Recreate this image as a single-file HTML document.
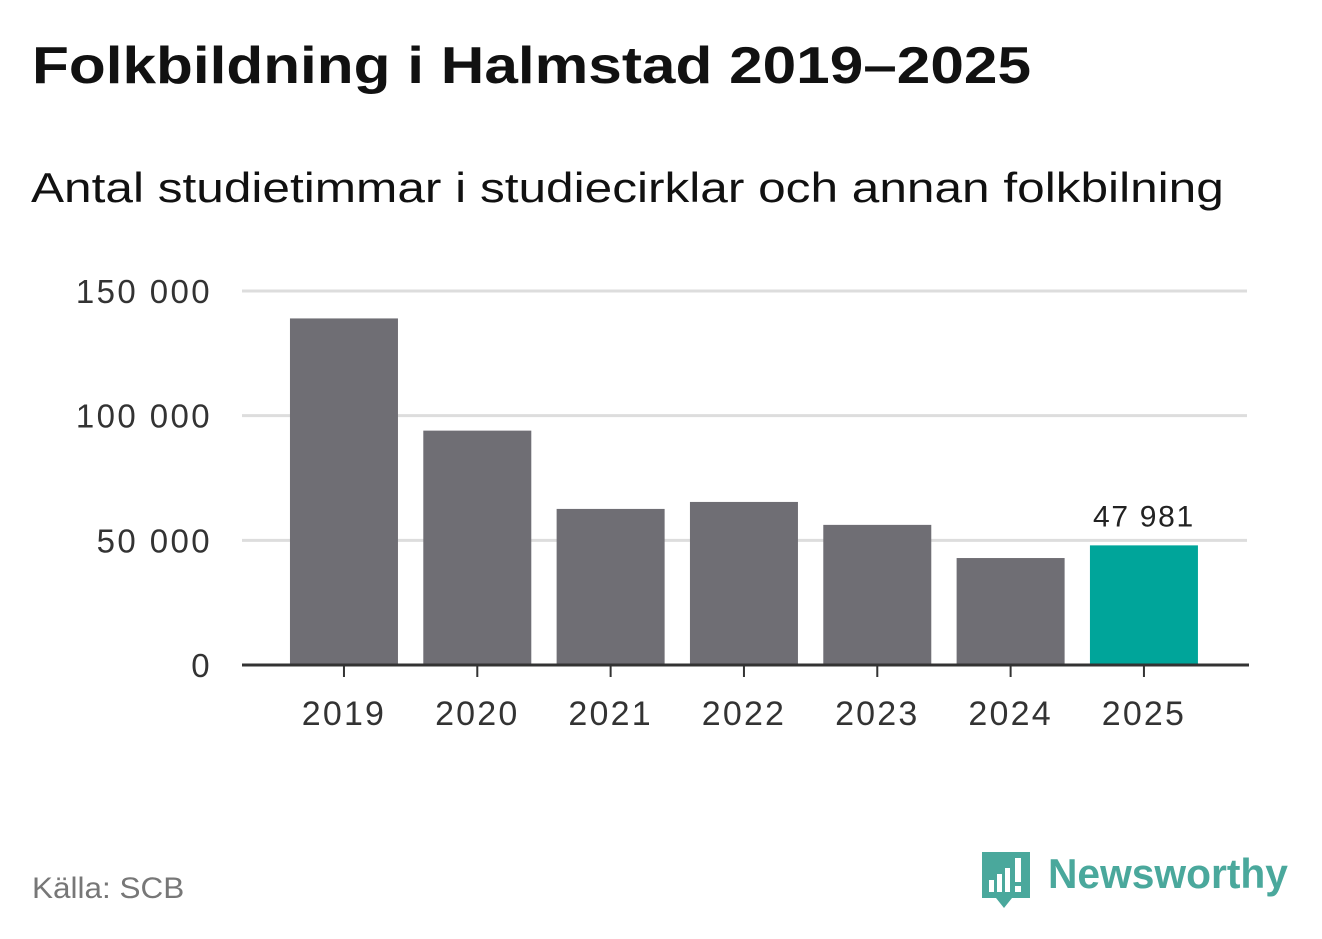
<!DOCTYPE html>
<html><head><meta charset="utf-8"><style>
body{margin:0;width:1322px;height:939px;background:#fff;font-family:"Liberation Sans",sans-serif;overflow:hidden;position:relative}
.t{position:absolute;white-space:nowrap;transform-origin:0 0}
</style></head><body>
<div class="t" style="left:32px;top:36px;font-size:52px;font-weight:bold;color:#111;transform:scaleX(1.16)">Folkbildning i Halmstad 2019–2025</div>
<div class="t" style="left:31px;top:164px;font-size:42px;color:#111;transform:scaleX(1.18)">Antal studietimmar i studiecirklar och annan folkbilning</div>
<svg id="chart" width="1322" height="939" style="position:absolute;left:0;top:0"></svg>
<div class="t" style="left:32px;top:872px;font-size:30px;color:#777;transform:scaleX(1.05)">Källa: SCB</div>
<svg width="52" height="60" style="position:absolute;left:980px;top:850px">
<path d="M2 2H50V48H32L24 58L16 48H2Z" fill="#4aa89c"/>
<rect x="9" y="30" width="5" height="12" fill="#fff"/><rect x="17" y="24" width="5" height="18" fill="#fff"/><rect x="25" y="18" width="5" height="24" fill="#fff"/><rect x="35" y="8" width="6" height="24" fill="#fff"/><rect x="35" y="36" width="6" height="6" fill="#fff"/>
</svg>
<div class="t" style="left:1048px;top:850px;font-size:42px;font-weight:bold;color:#4aa89c;transform:scaleX(0.97)">Newsworthy</div>
<script>
const categories=["2019","2020","2021","2022","2023","2024","2025"];
const values=[139000,94000,62600,65400,56200,42900,47981];
const yTicks=[0,50000,100000,150000];
const yTickLabels=["0","50 000","100 000","150 000"];
const svg=document.getElementById('chart');
const NS='http://www.w3.org/2000/svg';
const x0=277.3,step=133.33,bw=108,yBase=665,yTop=291,yMax=150000;
const y=v=>yBase-(v/yMax)*(yBase-yTop);
const xc=i=>x0+step*i+step/2;
function mk(tag,attrs){const e=document.createElementNS(NS,tag);for(const k in attrs)e.setAttribute(k,attrs[k]);svg.appendChild(e);return e;}
yTicks.forEach((t,i)=>{
 if(t>0){const g=mk('line',{x1:242,x2:1247,y1:y(t),y2:y(t),stroke:'#ddd','stroke-width':3});
 
 }
 const l=mk('text',{x:212,y:y(t)+12,'text-anchor':'end','font-size':33,'letter-spacing':2.4,fill:'#333','font-family':'Liberation Sans, sans-serif'});
 l.textContent=yTickLabels[i];
 
 
});
values.forEach((v,i)=>{
 const last=i===values.length-1;
 const r=mk('rect',{x:xc(i)-bw/2,y:y(v),width:bw,height:yBase-y(v),fill:last?'#00a59a':'#6f6e74'});
 
 
 const tk=mk('line',{x1:xc(i),x2:xc(i),y1:yBase,y2:yBase+12,stroke:'#333','stroke-width':2});
 
 
 const lb=mk('text',{x:xc(i),y:725,'text-anchor':'middle','font-size':34,'letter-spacing':2.2,fill:'#333','font-family':'Liberation Sans, sans-serif'});
 lb.textContent=categories[i];
 
 
 if(last){const vl=mk('text',{x:xc(i),y:y(v)-19,'text-anchor':'middle','font-size':30,'letter-spacing':1.7,fill:'#222','font-family':'Liberation Sans, sans-serif'});
 vl.textContent=v.toLocaleString('en').replace(/,/g,' ');
 
 }
});
const ax=mk('line',{x1:242,x2:1249,y1:yBase,y2:yBase,stroke:'#333','stroke-width':3});


</script>
</body></html>
